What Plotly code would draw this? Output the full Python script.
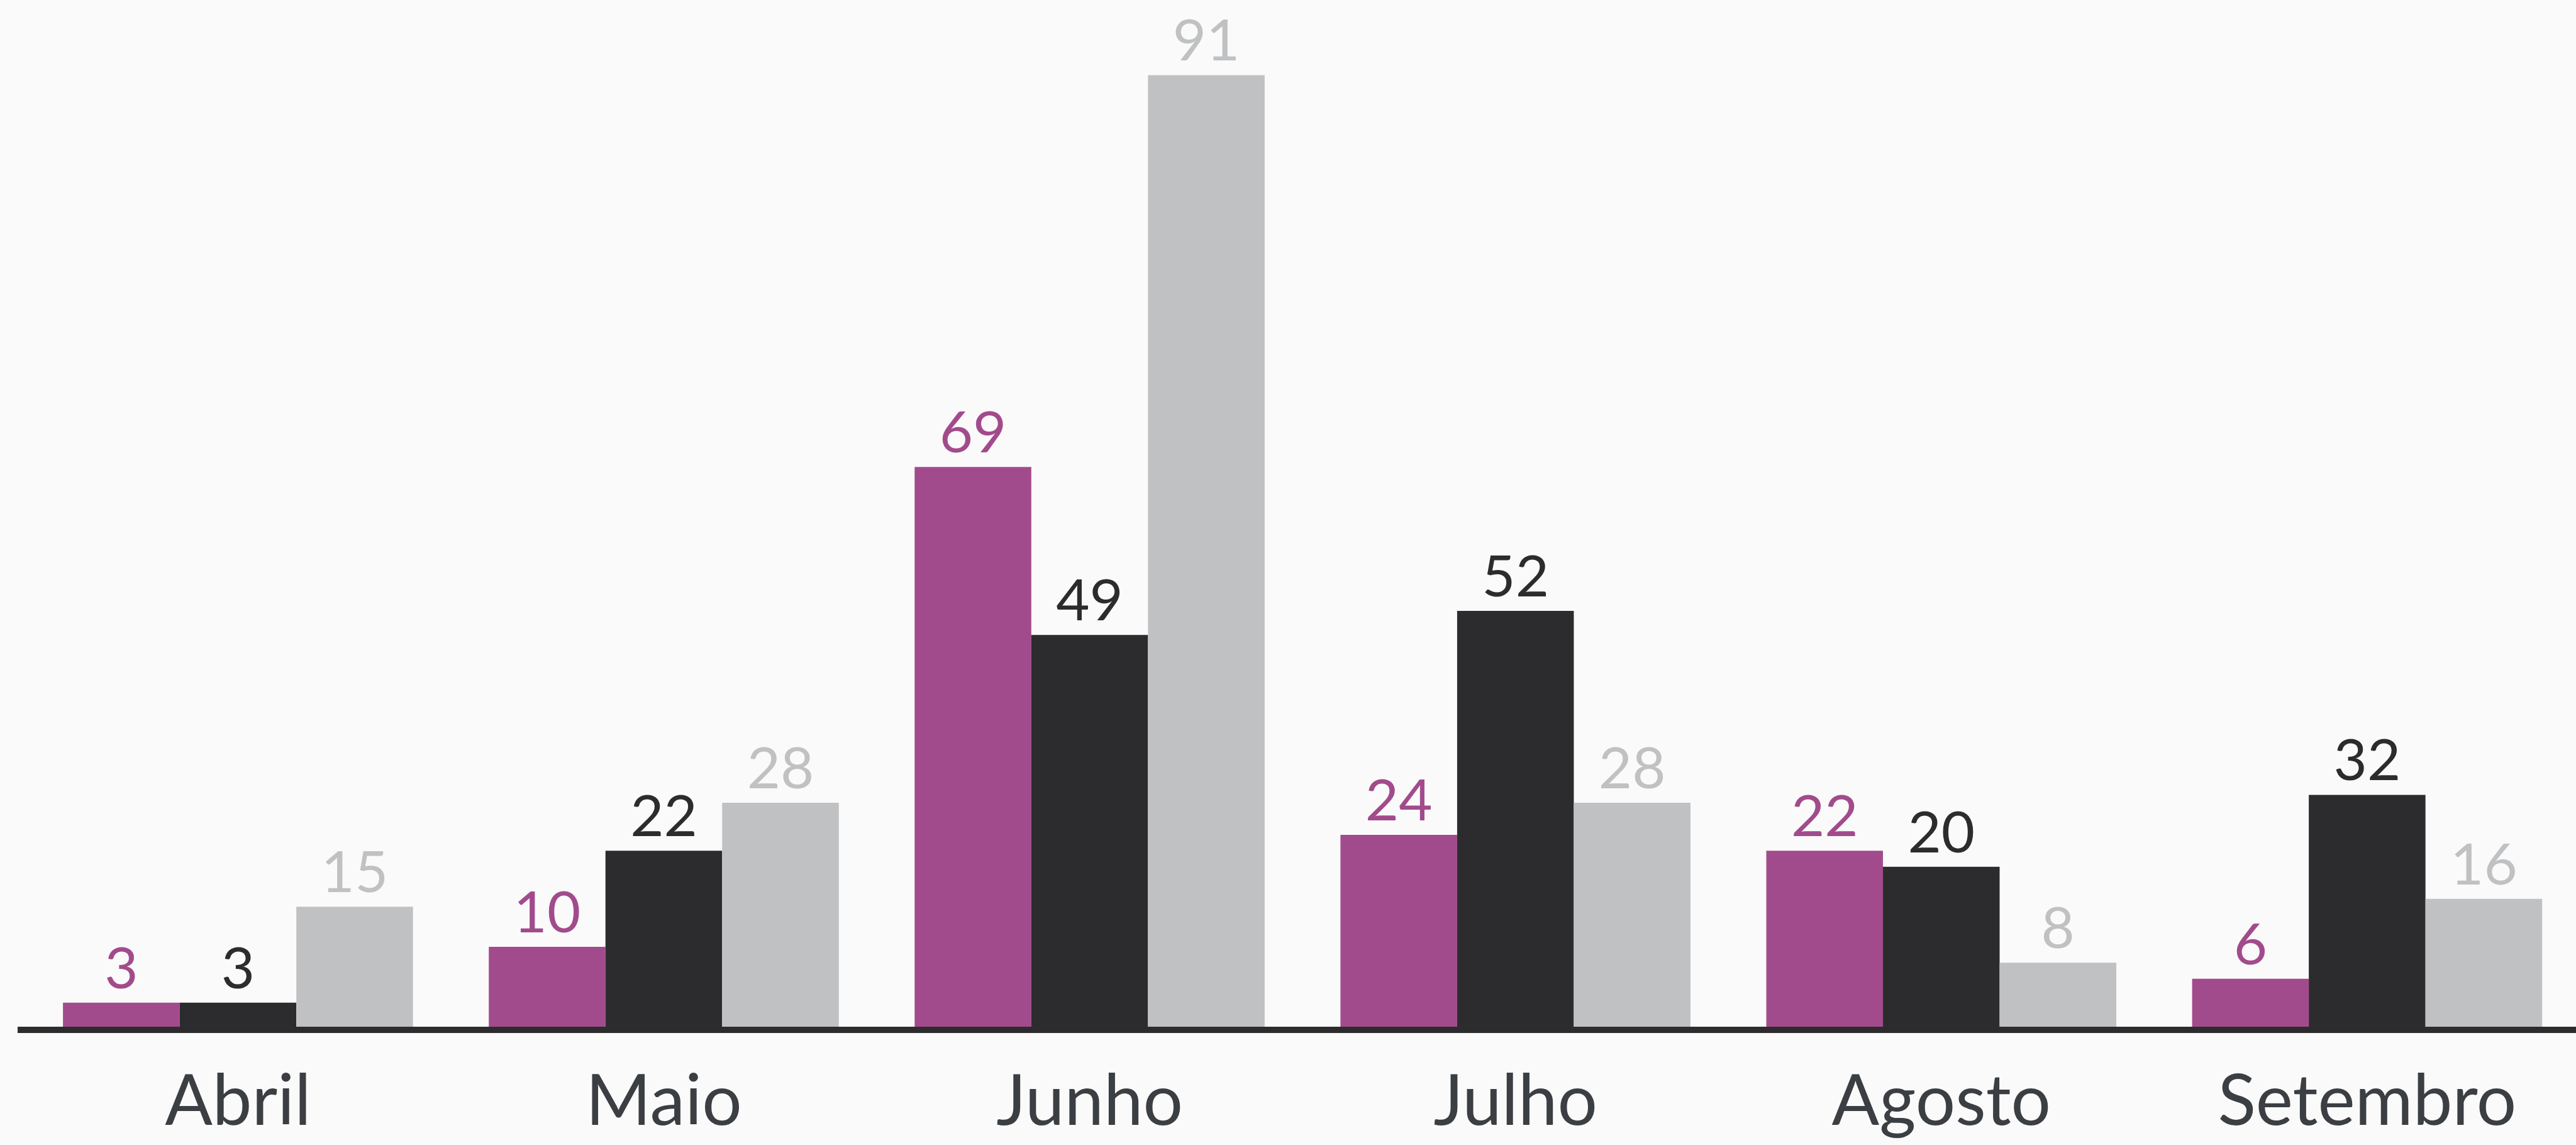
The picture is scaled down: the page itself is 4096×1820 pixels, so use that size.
import plotly.graph_objects as go

# ---- data ----
meses = ["Abril", "Maio", "Junho", "Julho", "Agosto", "Setembro"]
rotulos_a = [3, 10, 69, 24, 22, 6]      # magenta series (labels)
rotulos_b = [3, 22, 49, 52, 20, 32]     # dark series (labels)
rotulos_c = [15, 28, 91, 28, 8, 16]     # grey series (labels)
# bar heights as drawn in the picture (two bars are drawn off-scale there)
altura_a = [3, 10, 70, 24, 22, 6]
altura_b = [3, 22, 49, 52, 20, 29]
altura_c = [15, 28, 119, 28, 8, 16]

cor_a = "#A24B8C"
cor_b = "#2C2C2E"
cor_c = "#C0C1C3"
fundo = "#FAFAFA"
fonte = "Lato"

fig = go.Figure()
for alt, rot, cor in [(altura_a, rotulos_a, cor_a),
                      (altura_b, rotulos_b, cor_b),
                      (altura_c, rotulos_c, cor_c)]:
    fig.add_trace(go.Bar(
        x=meses, y=alt,
        text=[str(v) for v in rot],
        textposition="outside",
        textfont=dict(family=fonte, size=92, color=cor),
        marker=dict(color=cor, line=dict(width=0)),
        cliponaxis=False,
        hoverinfo="skip",
    ))

fig.update_layout(
    width=4096, height=1820,
    barmode="group", bargap=0.178, bargroupgap=0,
    showlegend=False,
    paper_bgcolor=fundo, plot_bgcolor=fundo,
    margin=dict(l=28, r=0, t=0, b=188, pad=0, autoexpand=False),
    xaxis=dict(
        range=[-0.5175, 5.4905],
        automargin=False,
        showline=True, linewidth=10, linecolor=cor_b,
        ticks="", showgrid=False, zeroline=False,
        ticklabelstandoff=12,
        tickfont=dict(family=fonte, size=112, color="#3B3E42"),
    ),
    yaxis=dict(visible=False, range=[0, 128.4], showgrid=False, zeroline=False,
               automargin=False),
)

fig.write_html("out.html", config={"displayModeBar": False},
               post_script="document.body.style.margin='0';document.body.style.overflow='hidden';")
